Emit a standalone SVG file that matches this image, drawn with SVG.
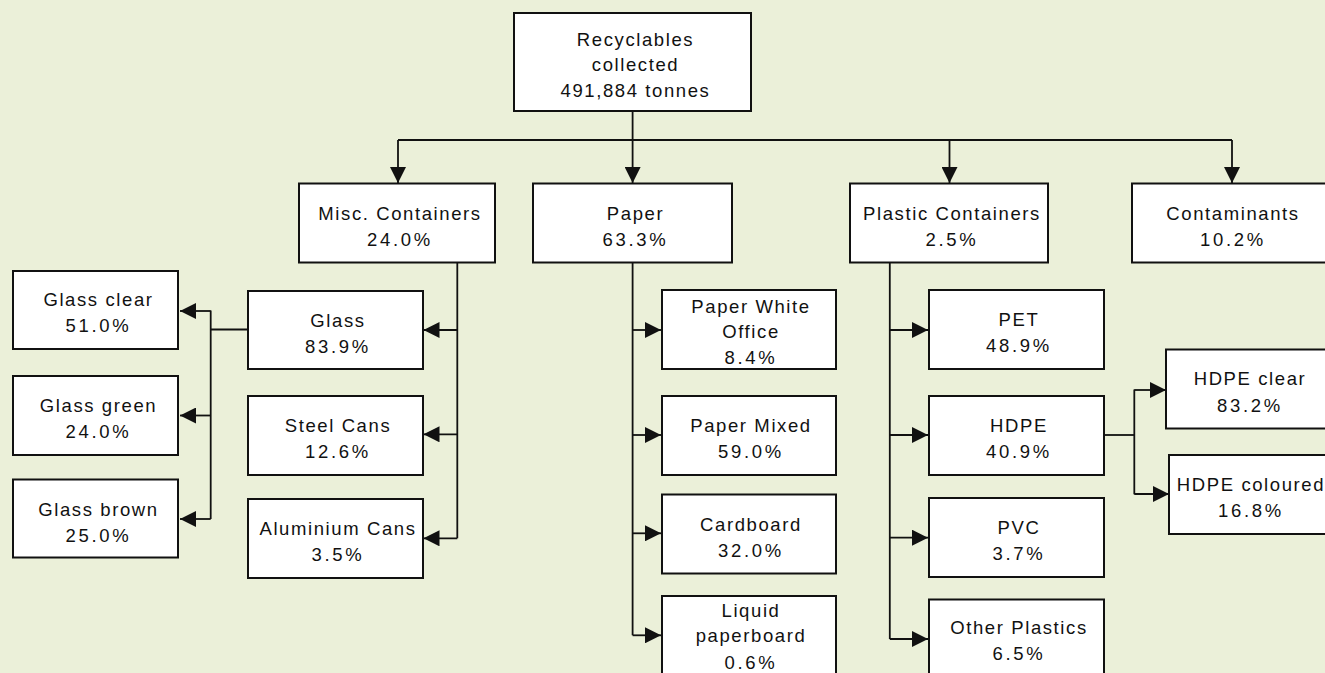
<svg xmlns="http://www.w3.org/2000/svg" width="1325" height="673" viewBox="0 0 1325 673">
<style>
.bx rect{fill:#ffffff;stroke:#111111;stroke-width:2}
.bx text{font-family:"Liberation Sans",Arial,sans-serif;font-size:18.5px;fill:#111111;text-anchor:middle;letter-spacing:1.6px}
.bx text .p{letter-spacing:2.7px}
.cn path{fill:none;stroke:#111111;stroke-width:1.8}
.cn path.a{marker-end:url(#ah)}
</style>
<defs>
<marker id="ah" viewBox="0 0 16 16" refX="16" refY="8" markerWidth="16" markerHeight="16" markerUnits="userSpaceOnUse" orient="auto">
<path d="M0,0 L16,8 L0,16 Z" fill="#111111"/>
</marker>
</defs>
<rect x="0" y="0" width="1325" height="673" fill="#ebf0d9"/>
<g class="cn" id="connectors">
<path class="a" d="M632.6,111 V183"/>
<path d="M398,140 H1232"/>
<path class="a" d="M398,140 V183"/>
<path class="a" d="M949.5,140 V183"/>
<path class="a" d="M1232,140 V183"/>
<path d="M457.3,263 V538.3"/>
<path class="a" d="M457.3,330 H423.5"/>
<path class="a" d="M457.3,434.3 H423.5"/>
<path class="a" d="M457.3,538.3 H423.5"/>
<path d="M247.7,329.5 H210.7"/>
<path d="M210.7,310.5 V519"/>
<path class="a" d="M210.7,311 H180"/>
<path class="a" d="M210.7,415.5 H180"/>
<path class="a" d="M210.7,519 H180"/>
<path d="M632.6,263 V635.3"/>
<path class="a" d="M632.6,330 H661"/>
<path class="a" d="M632.6,435 H661"/>
<path class="a" d="M632.6,533.3 H661"/>
<path class="a" d="M632.6,635.3 H661"/>
<path d="M889.8,263 V639"/>
<path class="a" d="M889.8,330 H928"/>
<path class="a" d="M889.8,435 H928"/>
<path class="a" d="M889.8,537.7 H928"/>
<path class="a" d="M889.8,639 H928"/>
<path d="M1104.3,435 H1134.3"/>
<path d="M1134.3,389.5 V494.3"/>
<path class="a" d="M1134.3,390 H1166"/>
<path class="a" d="M1134.3,494 H1169"/>
</g>
<g class="bx" id="root"><rect x="514" y="13" width="237" height="98"/><text x="635.5" y="45.7">Recyclables</text><text x="635.5" y="71">collected</text><text x="635.5" y="96.7">491,884 tonnes</text></g>
<g class="bx" id="misc"><rect x="299" y="183.5" width="196" height="79"/><text x="400" y="219.5">Misc. Containers</text><text x="400" y="245.5"><tspan class="p">24.0%</tspan></text></g>
<g class="bx" id="paper"><rect x="533" y="183.5" width="199" height="79"/><text x="635.5" y="219.5">Paper</text><text x="635.5" y="245.5"><tspan class="p">63.3%</tspan></text></g>
<g class="bx" id="plastic"><rect x="850" y="183.5" width="198" height="79"/><text x="952" y="219.5">Plastic Containers</text><text x="952" y="245.5"><tspan class="p">2.5%</tspan></text></g>
<g class="bx" id="contaminants"><rect x="1132" y="183.5" width="196" height="79"/><text x="1233" y="219.5">Contaminants</text><text x="1233" y="245.5"><tspan class="p">10.2%</tspan></text></g>
<g class="bx" id="glass-clear"><rect x="13" y="271" width="165" height="78"/><text x="98.5" y="306">Glass clear</text><text x="98.5" y="332.3"><tspan class="p">51.0%</tspan></text></g>
<g class="bx" id="glass-green"><rect x="13" y="376" width="165" height="79"/><text x="98.5" y="412">Glass green</text><text x="98.5" y="438"><tspan class="p">24.0%</tspan></text></g>
<g class="bx" id="glass-brown"><rect x="13" y="479.5" width="165" height="78"/><text x="98.5" y="515.5">Glass brown</text><text x="98.5" y="541.5"><tspan class="p">25.0%</tspan></text></g>
<g class="bx" id="glass"><rect x="248" y="291" width="175" height="78"/><text x="338" y="327">Glass</text><text x="338" y="353"><tspan class="p">83.9%</tspan></text></g>
<g class="bx" id="steel"><rect x="248" y="396" width="175" height="79"/><text x="338" y="432">Steel Cans</text><text x="338" y="458"><tspan class="p">12.6%</tspan></text></g>
<g class="bx" id="aluminium"><rect x="248" y="499" width="175" height="79"/><text x="338" y="535">Aluminium Cans</text><text x="338" y="561"><tspan class="p">3.5%</tspan></text></g>
<g class="bx" id="paper-white"><rect x="662" y="290" width="174" height="79"/><text x="751" y="313.3">Paper White</text><text x="751" y="337.7">Office</text><text x="751" y="364.3"><tspan class="p">8.4%</tspan></text></g>
<g class="bx" id="paper-mixed"><rect x="662" y="396" width="174" height="79"/><text x="751" y="432">Paper Mixed</text><text x="751" y="458"><tspan class="p">59.0%</tspan></text></g>
<g class="bx" id="cardboard"><rect x="662" y="494.5" width="174" height="79"/><text x="751" y="530.5">Cardboard</text><text x="751" y="556.5"><tspan class="p">32.0%</tspan></text></g>
<g class="bx" id="liquid"><rect x="662" y="596" width="174" height="80"/><text x="751" y="616.7">Liquid</text><text x="751" y="642.3">paperboard</text><text x="751" y="669.3"><tspan class="p">0.6%</tspan></text></g>
<g class="bx" id="pet"><rect x="929" y="290" width="175" height="79"/><text x="1019" y="326">PET</text><text x="1019" y="352"><tspan class="p">48.9%</tspan></text></g>
<g class="bx" id="hdpe"><rect x="929" y="396" width="175" height="79"/><text x="1019" y="432">HDPE</text><text x="1019" y="458"><tspan class="p">40.9%</tspan></text></g>
<g class="bx" id="pvc"><rect x="929" y="498" width="175" height="79"/><text x="1019" y="534">PVC</text><text x="1019" y="560"><tspan class="p">3.7%</tspan></text></g>
<g class="bx" id="other-plastics"><rect x="929" y="599.5" width="175" height="80"/><text x="1019" y="634">Other Plastics</text><text x="1019" y="660"><tspan class="p">6.5%</tspan></text></g>
<g class="bx" id="hdpe-clear"><rect x="1166" y="349.5" width="162" height="79"/><text x="1250" y="385">HDPE clear</text><text x="1250" y="411.7"><tspan class="p">83.2%</tspan></text></g>
<g class="bx" id="hdpe-coloured"><rect x="1169" y="455" width="159" height="79"/><text x="1251" y="491">HDPE coloured</text><text x="1251" y="517"><tspan class="p">16.8%</tspan></text></g>
</svg>
